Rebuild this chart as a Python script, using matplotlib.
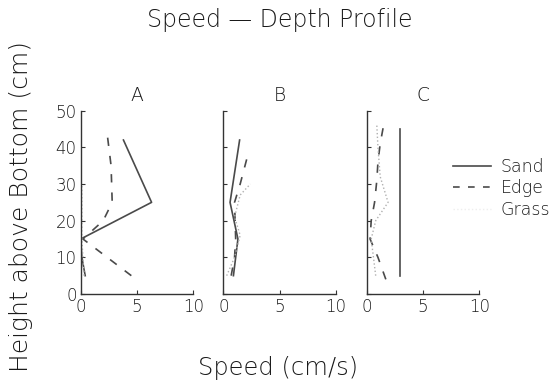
import matplotlib
matplotlib.use("Agg")
import matplotlib.pyplot as plt
from matplotlib.lines import Line2D

panels = ["A", "B", "C"]

sand_x = {"A": [0.4, 0.1, 0.0, 6.3, 3.8],
          "B": [0.9, 1.1, 1.3, 0.6, 1.45],
          "C": [3.0, 3.0, 3.0, 3.0, 3.0]}
sand_y = {"A": [5, 10, 15, 25, 42],
          "B": [5, 10, 15, 25, 42],
          "C": [5, 15, 25, 35, 45]}

edge_x = {"A": [4.5, 0.2, 2.0, 2.8, 2.7, 2.3],
          "B": [0.7, 1.0, 1.1, 1.0, 1.5, 2.1],
          "C": [1.7, 1.0, 0.3, 0.4, 0.7, 0.9, 1.0, 1.2, 1.5]}
edge_y = {"A": [5, 15, 20, 25, 35, 45],
          "B": [5, 10, 15, 25, 30, 37],
          "C": [4, 10, 15, 20, 25, 31, 36, 41, 46]}

grass_x = {"A": [0.3, 0.2, 0.1, 0.1, 0.1],
           "B": [0.3, 1.0, 1.5, 1.0, 1.5, 2.4],
           "C": [0.8, 0.6, 0.4, 0.8, 1.9, 1.2, 1.0, 0.9]}
grass_y = {"A": [5, 10, 15, 20, 30],
           "B": [5, 10, 16, 21, 27, 30],
           "C": [5, 10, 15, 20, 25, 32, 40, 46]}

xticks = [0, 5, 10]
yticks = [0, 10, 20, 30, 40, 50]

W, H = 549, 389
fig = plt.figure(figsize=(W / 100, H / 100), dpi=100)
plt.rcParams['font.family'] = ['DejaVu Sans']
plt.rcParams['font.weight'] = 'light'
txt = '#1a1a1a'
ln = '#4a4a4a'

lefts = [80.7, 223.3, 366.7]
width = 112.5
bottom_px, top_px = 294, 110.7
for i, p in enumerate(panels):
    ax = fig.add_axes([lefts[i] / W, 1 - bottom_px / H, width / W, (bottom_px - top_px) / H])
    ax.plot(sand_x[p], sand_y[p], ls='-', color=ln, lw=1.2)
    ax.plot(edge_x[p], edge_y[p], ls=(0, (5, 6)), color=ln, lw=1.2)
    ax.plot(grass_x[p], grass_y[p], ls=':', color='#b0b0b0', lw=1.0)
    ax.set_xlim(0, 10)
    ax.set_ylim(0, 50)
    ax.set_xticks(xticks)
    ax.set_yticks(yticks)
    for s in ['top', 'right']:
        ax.spines[s].set_visible(False)
    for s in ['left', 'bottom']:
        ax.spines[s].set_color('#333333')
        ax.spines[s].set_linewidth(1.0)
    ax.tick_params(direction='in', length=3, width=0.8, colors='#333333',
                   labelsize=12, labelcolor=txt, pad=3)
    if i > 0:
        ax.set_yticklabels([])
    ax.set_title(p, fontsize=13.5, color=txt, pad=7, fontweight='light')
    ax.patch.set_alpha(0)

fig.text(280 / W, 1 - 20 / H, "Speed \u2014 Depth Profile", ha='center', va='center',
         fontsize=17, color=txt)
fig.text(278 / W, 1 - 368 / H, "Speed (cm/s)", ha='center', va='center',
         fontsize=17.5, color=txt)
fig.text(21 / W, 1 - 207 / H, "Height above Bottom (cm)", ha='center', va='center',
         rotation=90, fontsize=18, color=txt)

handles = [Line2D([], [], color=ln, lw=1.2, ls='-'),
           Line2D([], [], color=ln, lw=1.2, ls=(0, (4, 5))),
           Line2D([], [], color='#eeeeee', lw=1.0, ls=':')]
fig.legend(handles, ["Sand", "Edge", "Grass"], loc='upper left',
           bbox_to_anchor=(446 / W, 1 - 151 / H), frameon=False, fontsize=12.5,
           handlelength=2.2, labelspacing=0.2, handletextpad=0.55, labelcolor=txt,
           borderaxespad=0)

fig.savefig("out.png", dpi=100)
